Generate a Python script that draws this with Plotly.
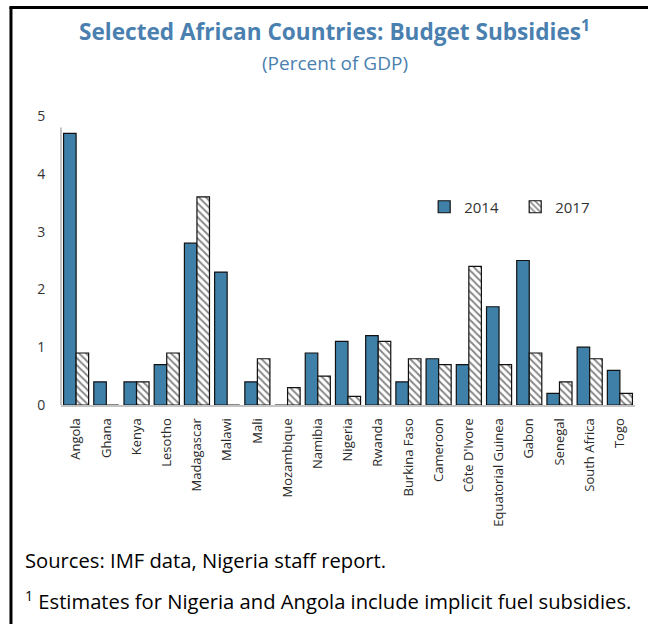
import plotly.graph_objects as go

countries = ["Angola", "Ghana", "Kenya", "Lesotho", "Madagascar", "Malawi", "Mali",
             "Mozambique", "Namibia", "Nigeria", "Rwanda", "Burkina Faso", "Cameroon",
             "Côte D'Ivore", "Equatorial Guinea", "Gabon", "Senegal", "South Africa", "Togo"]
v2014 = [4.7, 0.4, 0.4, 0.7, 2.8, 2.3, 0.4, 0.0, 0.9, 1.1, 1.2, 0.4, 0.8, 0.7, 1.7, 2.5, 0.2, 1.0, 0.6]
v2017 = [0.9, 0.0, 0.4, 0.9, 3.6, 0.0, 0.8, 0.3, 0.5, 0.15, 1.1, 0.8, 0.7, 2.4, 0.7, 0.9, 0.4, 0.8, 0.2]
yticks = [0, 1, 2, 3, 4, 5]

W, H = 648, 624
L, R = 61, 634.7
T, B = 116, 405


def px(x):
    return (x - L) / (R - L)


def py(y):
    return (B - y) / (B - T)


BLUE = "#3f80a8"
TITLE = "#4a80b0"

fig = go.Figure()
fig.add_bar(x=countries, y=v2014, name="2014",
            marker=dict(color=BLUE, line=dict(color="#111111", width=1.2)))
fig.add_bar(x=countries, y=v2017, name="2017",
            marker=dict(color="white", line=dict(color="#111111", width=1.2),
                        pattern=dict(shape="\\", fgcolor="#111111", bgcolor="white",
                                     size=5, solidity=0.4)))

fig.update_layout(
    width=W, height=H,
    margin=dict(l=L, r=W - R, t=T, b=H - B, autoexpand=False),
    paper_bgcolor="white", plot_bgcolor="white",
    barmode="group", bargap=0.17, bargroupgap=0,
    font=dict(family="Open Sans, sans-serif", color="#333333"),
    showlegend=True,
    legend=dict(orientation="h", x=px(424), y=py(207), xanchor="left", yanchor="middle",
                font=dict(size=15, color="#333333"), entrywidth=46, entrywidthmode="pixels",
                itemwidth=30, bgcolor="rgba(0,0,0,0)", traceorder="normal"),
)
fig.update_xaxes(range=[-0.5, len(countries) - 0.5], tickangle=-90,
                 tickfont=dict(size=13, color="#2a2a2a"),
                 showline=True, linecolor="#c4c4c4", linewidth=2,
                 ticks="outside", ticklen=6, tickcolor="rgba(0,0,0,0)",
                 showgrid=False, zeroline=False)
fig.update_yaxes(range=[0, 5], tickvals=yticks, tickfont=dict(size=14, color="#333333"),
                 showline=False, showgrid=False, zeroline=False,
                 ticks="outside", ticklen=12, tickcolor="rgba(0,0,0,0)")

# y axis line (grey, stops a little short of the top)
fig.add_shape(type="line", xref="paper", yref="y", x0=0, x1=0, y0=0, y1=4.8,
              line=dict(color="#c4c4c4", width=2))

# border frame (left and top)
fig.add_shape(type="line", xref="paper", yref="paper", x0=px(11), x1=px(11),
              y0=py(7), y1=py(630), line=dict(color="black", width=3))
fig.add_shape(type="line", xref="paper", yref="paper", x0=px(9.5), x1=px(650),
              y0=py(7.5), y1=py(7.5), line=dict(color="black", width=3))

fig.add_annotation(text="<b>Selected African Countries: Budget Subsidies<sup>1</sup></b>",
                   xref="paper", yref="paper", x=px(334), y=py(30), showarrow=False,
                   xanchor="center", yanchor="middle",
                   font=dict(size=22.6, color=TITLE, family="Open Sans, sans-serif"))
fig.add_annotation(text="(Percent of GDP)",
                   xref="paper", yref="paper", x=px(335), y=py(63), showarrow=False,
                   xanchor="center", yanchor="middle",
                   font=dict(size=19, color=TITLE, family="Open Sans, sans-serif"))
fig.add_annotation(text="Sources: IMF data, Nigeria staff report.",
                   xref="paper", yref="paper", x=px(23), y=py(560), showarrow=False,
                   xanchor="left", yanchor="middle",
                   font=dict(size=20.2, color="black", family="Open Sans, sans-serif"))
fig.add_annotation(text="<sup>1</sup> Estimates for Nigeria and Angola include implicit fuel subsidies.",
                   xref="paper", yref="paper", x=px(23), y=py(600), showarrow=False,
                   xanchor="left", yanchor="middle",
                   font=dict(size=20.2, color="black", family="Open Sans, sans-serif"))

fig.write_html("out.html")
